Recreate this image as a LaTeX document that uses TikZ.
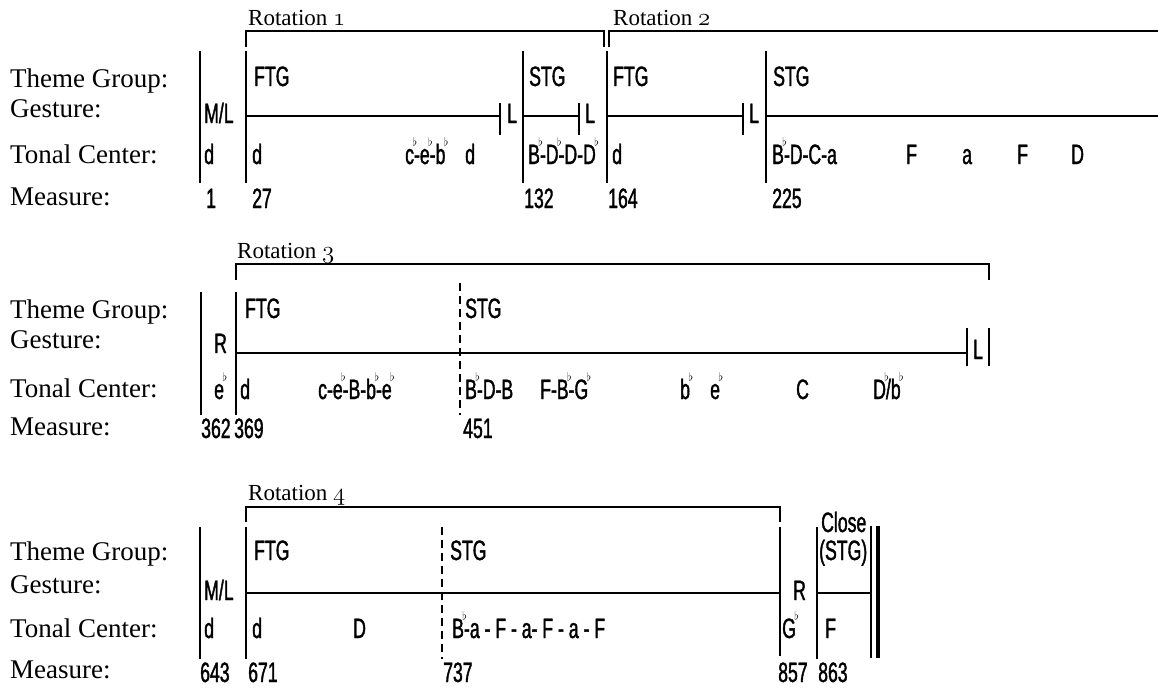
\documentclass[tikz,border=0pt]{standalone}
\usepackage{fontspec}
\newfontfamily\cond[FakeStretch=0.63,FakeBold=1.3]{Liberation Sans}
\newfontfamily\serifl{Liberation Serif}
\newcommand\labfont{\serifl\fontsize{27}{27}\selectfont}
\newcommand\rotfont{\serifl\fontsize{23}{23}\selectfont}
\newcommand\cndfont{\cond\fontsize{28}{28}\selectfont}
\newcommand\osn[1]{{\usefont{OML}{cmm}{m}{it}#1}}
% flat sign set above the right edge of the preceding letter
\newcommand\fl{\rlap{\kern-1.5pt\raisebox{17.5pt}{\fontsize{13}{13}\selectfont$\flat$}}}
\tikzset{
  lab/.style={anchor=base west, inner sep=0pt, font=\labfont},
  rot/.style={anchor=base west, inner sep=0pt, font=\rotfont},
  cnd/.style={anchor=base west, inner sep=0pt, font=\cndfont},
  barline/.style={line width=2pt},
  brk/.style={line width=1.4pt},
  gline/.style={line width=2pt},
  dsh/.style={line width=2pt, dash pattern=on 8pt off 5pt},
}
\begin{document}
\begin{tikzpicture}[x=1pt,y=-1pt]
\useasboundingbox (0,0) rectangle (1158,689);

% ---------------- row 1 ----------------
\node[lab] (tg1) at (10,87) {Theme Group:};
\node[lab] (ge1) at (10,117) {Gesture:};
\node[lab] (tc1) at (10,163) {Tonal Center:};
\node[lab] (me1) at (10,205) {Measure:};

\node[rot] (rot1) at (248,25) {Rotation \osn{1}};
\node[rot] (rot2) at (613,25) {Rotation \osn{2}};
\draw[brk] (246,47) -- (246,31) -- (604,31) -- (604,47);
\draw[brk] (609,47) -- (609,31) -- (1158,31);

\foreach \x/\n in {200/a,246/b,523/c,607/d,766/e}{
  \coordinate (t1\n) at (\x,51);
  \coordinate (b1\n) at (\x,183);
  \draw[barline] (t1\n) -- (b1\n);
}
\coordinate (g1b) at (246,116);
\coordinate (g1c) at (523,116);
\coordinate (g1d) at (607,116);
\coordinate (g1e) at (766,116);
\coordinate (g1end) at (1158,116);
\coordinate (k1a) at (500,116);
\coordinate (k1b) at (579,116);
\coordinate (k1c) at (743,116);
\draw[gline] (g1b) -- (k1a);
\draw[gline] (g1c) -- (k1b);
\draw[gline] (g1d) -- (k1c);
\draw[gline] (g1e) -- (g1end);
\foreach \k in {k1a,k1b,k1c}{
  \draw[barline] ([yshift=-19pt]\k) -- ([yshift=13pt]\k);
}
\node[cnd] (l1a) at (507,123) {L};
\node[cnd] (l1b) at (585,123) {L};
\node[cnd] (l1c) at (749,123) {L};

\node[cnd] (ml1) at (204,123) {M/L};
\node[cnd] (ftg1) at (254,86) {FTG};
\node[cnd] (stg1) at (529,86) {STG};
\node[cnd] (ftg2) at (613,86) {FTG};
\node[cnd] (stg2) at (773,86) {STG};

\node[cnd] (k1) at (204,164) {d};
\node[cnd] (k2) at (252,164) {d};
\node[cnd] (k3) at (405,164) {c\fl-e\fl-b\fl};
\node[cnd] (k4) at (465,164) {d};
\node[cnd] (k5) at (528,164) {B\fl-D\fl-D-D\fl};
\node[cnd] (k6) at (612,164) {d};
\node[cnd] (k7) at (772,164) {B\fl-D-C-a};
\node[cnd] (k8) at (906,164) {F};
\node[cnd] (k9) at (962,164) {a};
\node[cnd] (k10) at (1017,164) {F};
\node[cnd] (k11) at (1071,164) {D};

\node[cnd] (m1) at (206,208) {1};
\node[cnd] (m27) at (252,208) {27};
\node[cnd] (m132) at (524,208) {132};
\node[cnd] (m164) at (608,208) {164};
\node[cnd] (m225) at (772,208) {225};

% ---------------- row 2 ----------------
\node[lab] (tg2) at (10,318) {Theme Group:};
\node[lab] (ge2) at (10,348) {Gesture:};
\node[lab] (tc2) at (10,397) {Tonal Center:};
\node[lab] (me2) at (10,435) {Measure:};

\node[rot] (rot3) at (237,258) {Rotation \osn{3}};
\draw[brk] (236,280) -- (236,264) -- (989,264) -- (989,280);

\foreach \x/\n in {201/a,236/b}{
  \coordinate (t2\n) at (\x,292);
  \coordinate (b2\n) at (\x,415);
  \draw[barline] (t2\n) -- (b2\n);
}
\coordinate (t2s) at (460,283);
\coordinate (b2s) at (460,415);
\draw[dsh] (t2s) -- (b2s);

\coordinate (g2b) at (236,353);
\coordinate (k2a) at (967,353);
\draw[gline] (g2b) -- (k2a);
\draw[barline] (967,328) -- (967,366);
\node[cnd] (l2a) at (973,359) {L};
\draw[barline] (989,328) -- (989,366);

\node[cnd] (r2) at (214,353) {R};
\node[cnd] (ftg3) at (245,318) {FTG};
\node[cnd] (stg3) at (465,318) {STG};

\node[cnd] (n1) at (214,399) {e\fl};
\node[cnd] (n2) at (240,399) {d};
\node[cnd] (n3) at (318,399) {c-e\fl-B-b\fl-e\fl};
\node[cnd] (n4) at (465,399) {B\fl-D-B};
\node[cnd] (n5) at (540,399) {F-B\fl-G\fl};
\node[cnd] (n6) at (680,399) {b\fl};
\node[cnd] (n7) at (710,399) {e\fl};
\node[cnd] (n8) at (796,399) {C};
\node[cnd] (n9) at (873,399) {D\fl/b\fl};

\node[cnd] (m362) at (201,438) {362};
\node[cnd] (m369) at (234,438) {369};
\node[cnd] (m451) at (463,438) {451};

% ---------------- row 3 ----------------
\node[lab] (tg3) at (10,560) {Theme Group:};
\node[lab] (ge3) at (10,593) {Gesture:};
\node[lab] (tc3) at (10,637) {Tonal Center:};
\node[lab] (me3) at (10,678) {Measure:};

\node[rot] (rot4) at (248,500) {Rotation \osn{4}};
\draw[brk] (246,522) -- (246,507) -- (780,507) -- (780,522);

\foreach \x/\n in {200/a,246/b,817/d}{
  \coordinate (t3\n) at (\x,527);
  \coordinate (b3\n) at (\x,659);
  \draw[barline] (t3\n) -- (b3\n);
}
\coordinate (t3c) at (780,527);
\coordinate (b3c) at (780,656);
\draw[barline] (t3c) -- (b3c);
\coordinate (t3s) at (442,527);
\coordinate (b3s) at (442,659);
\draw[dsh] (t3s) -- (b3s);

\coordinate (g3b) at (246,593);
\coordinate (g3c) at (780,593);
\coordinate (g3d) at (817,593);
\coordinate (g3e) at (871,593);
\draw[gline] (g3b) -- (g3c);
\draw[gline] (g3d) -- (g3e);
\draw[line width=1.6pt] (871,526) -- (871,658);
\draw[line width=4pt] (877.5,526) -- (877.5,658);

\node[cnd] (ml3) at (204,600) {M/L};
\node[cnd] (ftg4) at (254,560) {FTG};
\node[cnd] (stg4) at (450,560) {STG};
\node[cnd] (r3) at (793,600) {R};
\node[cnd] (cl) at (821,532) {Close};
\node[cnd] (cls) at (819,560) {(STG)};

\node[cnd] (p1) at (204,638) {d};
\node[cnd] (p2) at (252,638) {d};
\node[cnd] (p3) at (353,638) {D};
\node[cnd] (p4) at (452,638) {B\fl-a - F - a- F - a - F};
\node[cnd] (p5) at (782,638) {G\fl};
\node[cnd] (p6) at (825,638) {F};

\node[cnd] (m643) at (200,682) {643};
\node[cnd] (m671) at (248,682) {671};
\node[cnd] (m737) at (443,682) {737};
\node[cnd] (m857) at (778,682) {857};
\node[cnd] (m863) at (818,682) {863};
\end{tikzpicture}
\end{document}
